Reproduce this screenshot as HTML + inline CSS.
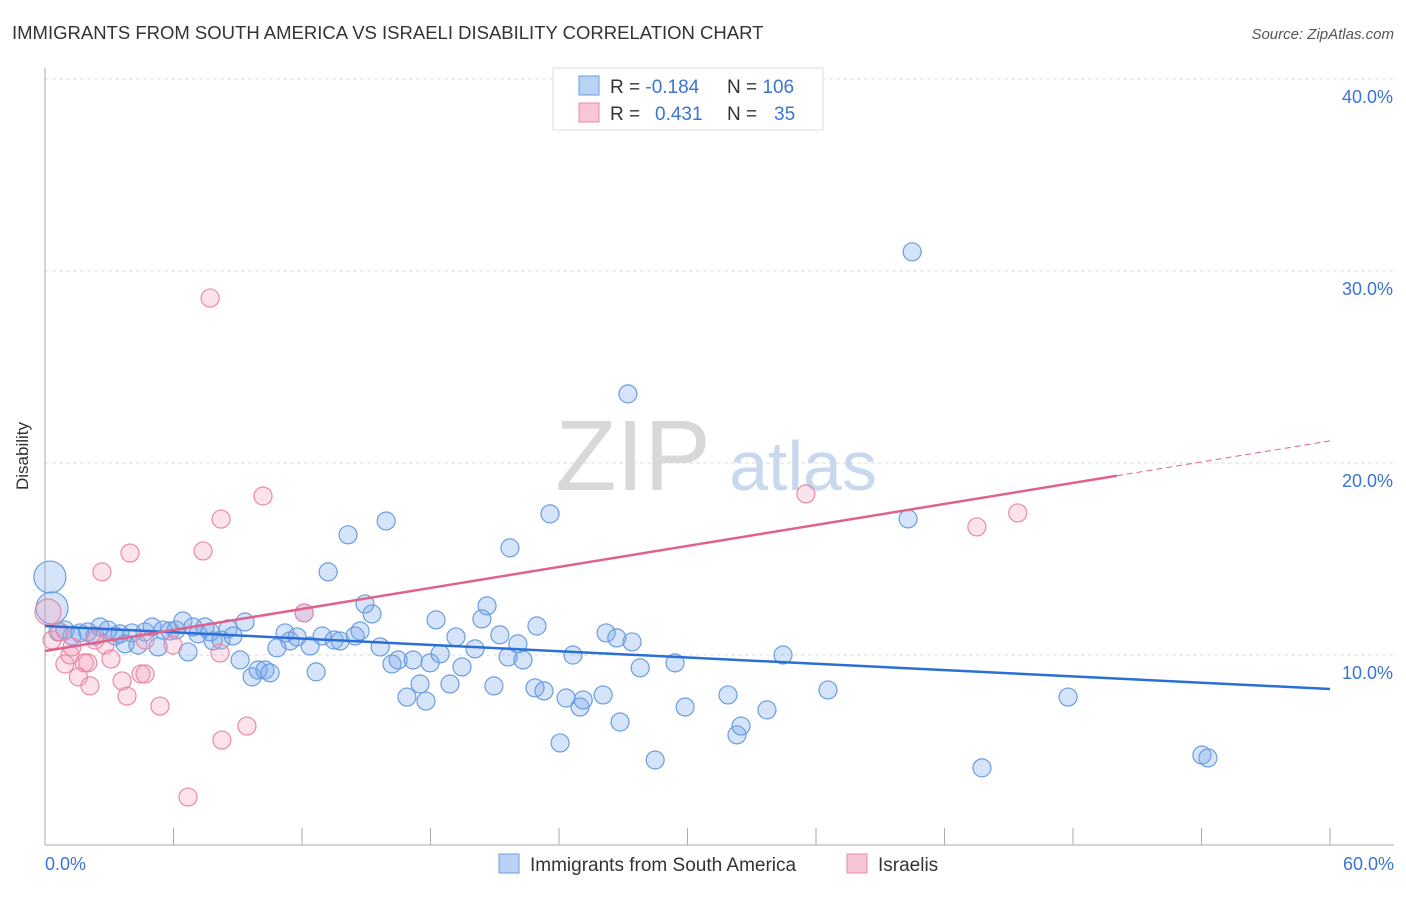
<!DOCTYPE html>
<html><head><meta charset="utf-8"><style>
body{margin:0;background:#fff;font-family:"Liberation Sans",sans-serif}
svg text{font-family:"Liberation Sans",sans-serif}
</style></head><body>
<svg id="c" width="1406" height="892">
<text x="12" y="39" font-size="18.5" fill="#333">IMMIGRANTS FROM SOUTH AMERICA VS ISRAELI DISABILITY CORRELATION CHART</text>
<text x="1394" y="39" font-size="15" fill="#555" text-anchor="end" font-style="italic">Source: ZipAtlas.com</text>
<g id="grid"></g>
<text x="633" y="490" font-size="100" fill="#d8d8d8" font-family="Liberation Serif" text-anchor="middle">ZIP</text>
<text x="803" y="490" font-size="70" fill="#c8d8ef" text-anchor="middle">atlas</text>
<line x1="45" y1="68" x2="45" y2="845" stroke="#aaa"/>
<line x1="45" y1="845" x2="1394" y2="845" stroke="#aaa"/>
<g id="ticks"></g>
<text x="28" y="456" font-size="17" fill="#333" text-anchor="middle" transform="rotate(-90 28 456)">Disability</text>
<text x="45" y="870" font-size="18" fill="#3a74d4">0.0%</text>
<text x="1394" y="870" font-size="18" fill="#3a74d4" text-anchor="end">60.0%</text>
<g id="pts"></g>
<g id="lines"></g>
<g>
<rect x="553" y="68" width="270" height="62" fill="#fff" stroke="#ddd"/>
<rect x="579" y="76" width="20" height="19" fill="#b9d3f5" stroke="#6b9de0"/>
<rect x="579" y="103" width="20" height="19" fill="#f9c6d6" stroke="#e88aa8"/>
<text x="610" y="93" font-size="19" fill="#333">R = <tspan fill="#3a74d4">-0.184</tspan></text>
<text x="727" y="93" font-size="19" fill="#333">N = <tspan fill="#3a74d4">106</tspan></text>
<text x="610" y="120" font-size="19" fill="#333">R = <tspan fill="#3a74d4" x="655">0.431</tspan></text>
<text x="727" y="120" font-size="19" fill="#333">N = <tspan fill="#3a74d4" x="774">35</tspan></text>
</g>
<g>
<rect x="499" y="854" width="20" height="19" fill="#b9d3f5" stroke="#6b9de0"/>
<text x="530" y="871" font-size="19" fill="#333">Immigrants from South America</text>
<rect x="847" y="854" width="20" height="19" fill="#f9c6d6" stroke="#e88aa8"/>
<text x="878" y="871" font-size="19" fill="#333">Israelis</text>
</g>
</svg>
<script>
const blueX=[0.23,0.33,0.61,0.93,1.26,1.63,2.0,2.33,2.57,2.94,3.27,3.5,3.74,4.06,4.34,4.67,5.0,5.28,5.51,5.84,6.12,6.44,6.68,6.91,7.14,7.47,7.71,7.85,8.22,8.55,8.78,9.11,9.34,9.67,9.95,10.27,10.51,10.83,11.21,11.44,11.77,12.1,12.38,12.66,12.94,13.22,13.5,13.78,14.15,14.48,14.71,14.94,15.27,15.65,15.93,16.2,16.49,16.9,17.19,17.51,17.79,17.98,18.26,18.45,18.91,19.19,19.47,20.08,20.4,20.64,20.96,21.24,21.71,21.62,22.08,22.32,22.97,22.88,23.3,23.58,24.05,24.33,24.65,24.98,25.13,26.06,26.2,26.7,26.85,27.22,27.41,27.79,28.49,29.42,29.89,31.89,32.31,32.5,33.71,34.46,36.56,40.3,40.49,43.75,47.77,54.02,54.3];
const blueY=[14.06,12.45,11.2,11.3,10.99,11.15,11.2,10.99,11.46,11.3,10.99,11.1,10.58,11.15,10.52,11.2,11.46,10.42,11.3,11.25,11.3,11.77,10.16,11.46,11.1,11.46,11.2,10.73,10.78,11.36,10.99,9.74,11.72,8.86,9.22,9.22,9.07,10.37,11.15,10.73,10.94,12.19,10.47,9.12,10.99,14.33,10.78,10.73,16.26,10.99,11.25,12.66,12.14,10.42,16.98,9.53,9.74,7.81,9.74,8.49,7.6,9.59,11.83,10.06,8.49,10.94,9.38,10.32,11.88,12.56,8.39,11.05,15.58,9.9,10.58,9.74,11.51,8.29,8.13,17.35,5.42,7.76,10.0,7.29,7.66,7.92,11.15,10.89,6.51,23.6,10.68,9.33,4.53,9.59,7.29,7.92,5.84,6.3,7.14,10.0,8.18,17.09,31.0,4.12,7.81,4.79,4.64];
const pinkX=[0.14,0.33,0.7,0.93,1.17,1.26,1.56,1.84,2.1,2.0,2.66,2.8,3.08,3.6,3.83,3.97,4.48,4.67,5.37,5.98,6.68,7.38,7.71,8.22,8.17,8.26,9.43,10.18,12.1,35.53,43.51,45.42,4.67,2.33];
const pinkY=[12.24,10.78,11.2,9.53,10.0,10.42,8.86,9.59,8.39,9.59,14.33,10.52,9.79,8.65,7.86,15.31,9.01,9.01,7.34,10.52,2.6,15.42,28.59,17.08,10.1,5.57,6.3,18.28,12.19,18.39,16.67,17.4,10.78,10.78];
const blueTrend=[11.51,8.23];
const pinkTrend=[10.21,21.15];
const pinkSolidEnd=50.05;
const yTicks=[10,20,30,40];
const xTickVals=[0,6,12,18,24,30,36,42,48,54,60];
const X=v=>45+v*1285/60, Y=v=>847-v*19.2;
const NS='http://www.w3.org/2000/svg';
function mk(t,a,p){const e=document.createElementNS(NS,t);for(const k in a)e.setAttribute(k,a[k]);p.appendChild(e);return e;}
const grid=document.getElementById('grid');
yTicks.forEach(v=>{
 const l=mk('line',{x1:45,x2:1394,y1:Y(v),y2:Y(v),stroke:'#ddd','stroke-dasharray':'4,3'},grid);
 
 
 const t=mk('text',{x:1393,y:Y(v)+24,'font-size':18,fill:'#3a74d4','text-anchor':'end'},grid);
 t.textContent=v.toFixed(1)+'%';
 
 
});
const ticks=document.getElementById('ticks');
xTickVals.forEach(v=>{
 const l=mk('line',{x1:X(v),x2:X(v),y1:828,y2:845,stroke:'#aaa'},ticks);
 
 
});
const pts=document.getElementById('pts');
blueX.forEach((x,i)=>{
 const c=mk('circle',{cx:X(x),cy:Y(blueY[i]),r:i<2?16:9,fill:'rgba(120,165,235,0.3)',stroke:'#6b9de0','stroke-width':1.2},pts);
 
 
});
pinkX.forEach((x,i)=>{
 const c=mk('circle',{cx:X(x),cy:Y(pinkY[i]),r:i<1?13:9,fill:'rgba(245,160,190,0.3)',stroke:'#e88aa8','stroke-width':1.2},pts);
 
 
});
const lines=document.getElementById('lines');
const pAt=x=>pinkTrend[0]+(pinkTrend[1]-pinkTrend[0])*x/60;
let l=mk('line',{x1:X(0),y1:Y(blueTrend[0]),x2:X(60),y2:Y(blueTrend[1]),stroke:'#2a6fd6','stroke-width':2.5},lines);


l=mk('line',{x1:X(0),y1:Y(pAt(0)),x2:X(pinkSolidEnd),y2:Y(pAt(pinkSolidEnd)),stroke:'#e0628c','stroke-width':2.5},lines);


l=mk('line',{x1:X(pinkSolidEnd),y1:Y(pAt(pinkSolidEnd)),x2:X(60),y2:Y(pAt(60)),stroke:'#e0628c','stroke-width':1,'stroke-dasharray':'6,4'},lines);


</script>
</body></html>
